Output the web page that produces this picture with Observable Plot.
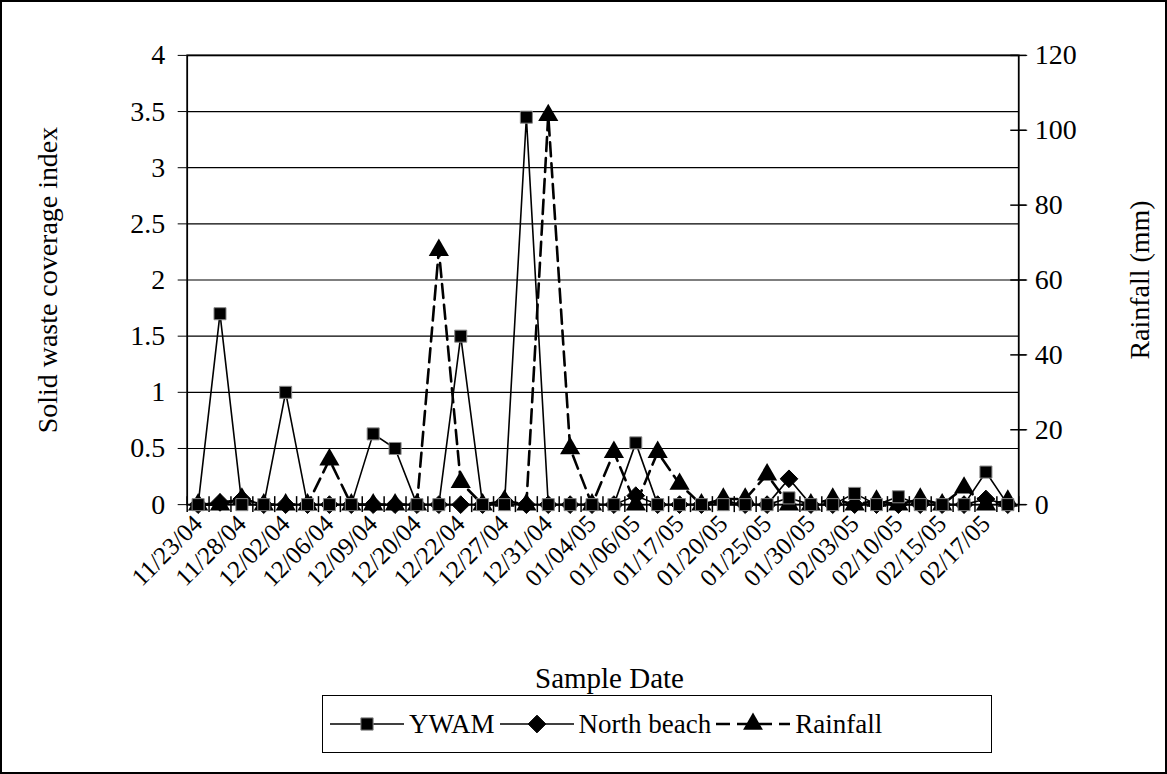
<!DOCTYPE html>
<html><head><meta charset="utf-8">
<script src="https://cdn.jsdelivr.net/npm/d3@7"></script>
<script src="https://cdn.jsdelivr.net/npm/@observablehq/plot@0.6"></script>
<style>
body{margin:0;background:#fff;}
#wrap{position:relative;width:1167px;height:774px;box-sizing:border-box;border:2px solid #000;font-family:"Liberation Serif","Times New Roman",serif;overflow:hidden;background:#fff}
#chart{position:absolute;left:-2px;top:-2px}
#xtitle{position:absolute;left:0;width:1215px;top:662px;text-align:center;font-size:29px;line-height:1}
#legend{position:absolute;left:320px;top:693px;width:670px;height:58px;box-sizing:border-box;border:1.5px solid #000;display:flex;align-items:center;font-size:27px;padding-left:6px}
.item{display:flex;align-items:center;margin-right:4px}
.item svg{margin-right:4px}
</style></head>
<body><div id="wrap"><div id="chart"></div><div id="xtitle">Sample Date</div><div id="legend"></div></div>
<script>
const tickLabels = ["11/23/04","11/28/04","12/02/04","12/06/04","12/09/04","12/20/04","12/22/04","12/27/04","12/31/04","01/04/05","01/06/05","01/17/05","01/20/05","01/25/05","01/30/05","02/03/05","02/10/05","02/15/05","02/17/05"];
const ywam =       [0,1.7,0,0,1.0,0,0,0,0.63,0.5,0,0,1.5,0,0,3.45,0,0,0,0,0.55,0,0,0,0,0,0,0.06,0,0,0.1,0,0.07,0,0,0,0.29,0];
const northBeach = [0,0.02,0.05,0,0,0,0,0,0,0,0,0,0,0,0.03,0,0,0,0,0,0.08,0,0,0,0.03,0,0,0.23,0,0,0,0,0,0,0,0,0.05,0];
const rainfall =   [0,0,1.5,0,0,0,12,0,0,0,0,68,6,0,1,0,104,15,0,14,0,14,5.5,0,1.5,1.5,8,0,0,1.5,0,1,0,1.5,0,4.5,0,1];
const leftTicks = [0,0.5,1,1.5,2,2.5,3,3.5,4];
const rightTicks = [0,20,40,60,80,100,120];
const rainPerUnit = 30; // 120 mm on the right axis = 4 on the left axis

const data = ywam.map((v,i)=>({i, ywam:v, north:northBeach[i], rain:rainfall[i]/rainPerUnit}));
const n = ywam.length;
const boundaries = d3.range(n+1).map(k=>k-0.5);
const labelIdx = tickLabels.map((_,k)=>k*2);

const chart = Plot.plot({
  width:1167, height:690,
  marginLeft:187, marginRight:147, marginTop:55, marginBottom:185,
  x:{domain:[-0.5,n-0.5]},
  y:{domain:[0,4]},
  style:{fontFamily:'"Liberation Serif","Times New Roman",serif', fontSize:"28px", color:"black", background:"transparent", overflow:"visible"},
  marks:[
    Plot.gridY(leftTicks,{stroke:"black", strokeOpacity:1, strokeWidth:1.2}),
    Plot.frame({stroke:"black", strokeWidth:1.8}),
    Plot.axisY(leftTicks,{anchor:"left", tickSize:9, tickPadding:13, fontSize:28, label:"Solid waste coverage index", labelArrow:"none", labelAnchor:"center", labelOffset:150, tickFormat:d=>String(d)}),
    Plot.axisY(rightTicks.map(v=>v/rainPerUnit),{anchor:"right", tickSize:8, tickPadding:8, fontSize:28, tickFormat:d=>String(Math.round(d*rainPerUnit)), label:"Rainfall (mm)", labelArrow:"none", labelAnchor:"center", labelOffset:130}),
    Plot.ruleY(rightTicks.map(v=>v/rainPerUnit),{y:d=>d, x1:n-0.5, x2:n-0.5, insetLeft:-8, insetRight:-8, stroke:"black", strokeWidth:1.5}),
    Plot.axisX(labelIdx,{anchor:"bottom", tickSize:0, tickPadding:15, tickRotate:-45, fontSize:25, tickFormat:i=>tickLabels[i/2], label:null}),
    Plot.ruleX(boundaries,{x:d=>d, y1:0, y2:0, insetTop:-8, insetBottom:-8, stroke:"black", strokeWidth:1.5}),
    Plot.line(data,{x:"i", y:"rain", stroke:"black", strokeWidth:2.6, strokeDasharray:"14,7"}),
    Plot.line(data,{x:"i", y:"ywam", stroke:"black", strokeWidth:1.6}),
    Plot.line(data,{x:"i", y:"north", stroke:"black", strokeWidth:1.6}),
    Plot.dot(data,{x:"i", y:"rain", symbol:"triangle", fill:"black", r:7.5}),
    Plot.dot(data,{x:"i", y:"north", symbol:"diamond2", fill:"black", stroke:"black", strokeWidth:1, r:8}),
    Plot.dot(data,{x:"i", y:"ywam", symbol:"square", fill:"black", stroke:"#888", strokeWidth:1, r:6.8})
  ]
});
document.getElementById("chart").appendChild(chart);

// legend
const items = [
  {name:"YWAM", symbol:d3.symbolSquare, size:150, dash:null, w:1.6, stroke:"#888"},
  {name:"North beach", symbol:d3.symbolDiamond2, size:200, dash:null, w:1.6, stroke:"black"},
  {name:"Rainfall", symbol:d3.symbolTriangle, size:170, dash:"14,7", w:2.6, stroke:null}
];
const leg = document.getElementById("legend");
for (const it of items) {
  const div = document.createElement("div"); div.className="item";
  const svg = d3.create("svg").attr("width",76).attr("height",24);
  svg.append("line").attr("x1",1).attr("x2",75).attr("y1",12).attr("y2",12).attr("stroke","black").attr("stroke-width",it.w).attr("stroke-dasharray",it.dash);
  svg.append("path").attr("transform","translate(38,12)").attr("d",d3.symbol(it.symbol,it.size)()).attr("fill","black").attr("stroke",it.stroke);
  div.appendChild(svg.node());
  const t = document.createElement("span"); t.textContent = it.name; div.appendChild(t);
  leg.appendChild(div);
}
</script></body></html>
